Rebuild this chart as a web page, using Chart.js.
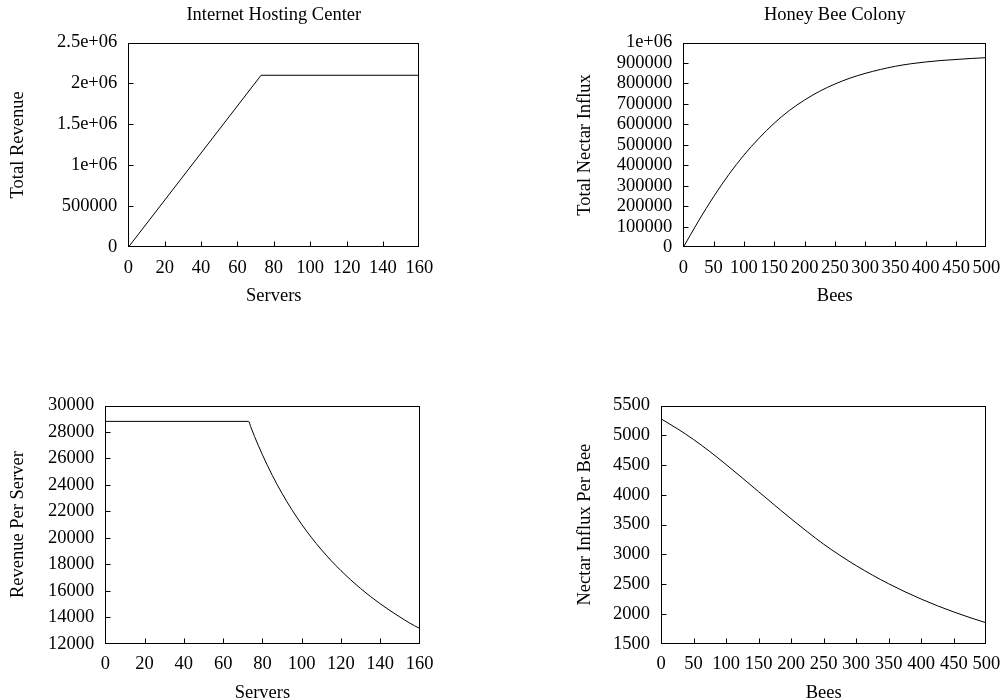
<!DOCTYPE html>
<html>
<head>
<meta charset="utf-8">
<script src="https://cdn.jsdelivr.net/npm/chart.js@4/dist/chart.umd.min.js"></script>
<style>
html,body{margin:0;padding:0;background:#fff;}
#wrap{position:relative;width:1000px;height:700px;overflow:hidden;}
.pane{position:absolute;width:500px;height:350px;}
canvas{display:block;}
</style>
</head>
<body>
<div id="wrap">
  <div class="pane" style="left:0;top:0"><canvas id="c1" width="500" height="350"></canvas></div>
  <div class="pane" style="left:500px;top:0"><canvas id="c2" width="500" height="350"></canvas></div>
  <div class="pane" style="left:0;top:350px"><canvas id="c3" width="500" height="350"></canvas></div>
  <div class="pane" style="left:500px;top:350px"><canvas id="c4" width="500" height="350"></canvas></div>
</div>
<script>
// ---------- data ----------
const serversTotal = [0, 73, 160];
const totalRevenue = [0, 2100000, 2100000];

const serversPer = [0, 73, 74, 76, 78, 80, 85, 90, 95, 100, 105, 110, 115, 120, 125, 130, 135, 140, 145, 150, 155, 160];
const revenuePerServer = [28800, 28800, 28410, 27660, 26950, 26280, 24730, 23360, 22130, 21020, 20020, 19110, 18280, 17520, 16820, 16170, 15570, 15020, 14500, 14020, 13560, 13160];

const bees = [0, 25, 50, 75, 100, 125, 150, 175, 200, 225, 250, 275, 300, 325, 350, 375, 400, 425, 450, 475, 500];
const totalNectar = [0, 128000, 247000, 355000, 450000, 533000, 606000, 668000, 719000, 762000, 797000, 826000, 849000, 868000, 884000, 896000, 905000, 912000, 917000, 922000, 926000];
const nectarPerBee = [5276, 5111, 4929, 4727, 4509, 4283, 4053, 3823, 3597, 3379, 3171, 2984, 2811, 2652, 2506, 2372, 2249, 2136, 2033, 1938, 1850];

const serverTicks = ['0', '20', '40', '60', '80', '100', '120', '140', '160'];
const beeTicks = ['0', '50', '100', '150', '200', '250', '300', '350', '400', '450', '500'];
const revenueTicks = ['0', '500000', '1e+06', '1.5e+06', '2e+06', '2.5e+06'];
const nectarTicks = ['0', '100000', '200000', '300000', '400000', '500000', '600000', '700000', '800000', '900000', '1e+06'];
const perServerTicks = ['12000', '14000', '16000', '18000', '20000', '22000', '24000', '26000', '28000', '30000'];
const perBeeTicks = ['1500', '2000', '2500', '3000', '3500', '4000', '4500', '5000', '5500'];

// ---------- drawing ----------
const FONT = "'Liberation Serif', 'Times New Roman', 'DejaVu Serif', serif";
const FS = 18.5;
Chart.defaults.color = '#000';
Chart.defaults.font.family = FONT;
Chart.defaults.font.size = FS;

const framePlugin = {
  id: 'frame',
  afterDatasetsDraw(chart) {
    const {ctx, chartArea: a, scales: {x, y}} = chart;
    const L = Math.round(a.left) + 0.5, R = Math.round(a.right) - 0.5;
    const T = Math.round(a.top) + 0.5, B = Math.round(a.bottom) - 0.5;
    ctx.save();
    ctx.strokeStyle = '#000';
    ctx.lineWidth = 1;
    ctx.beginPath();
    x.ticks.forEach(t => {
      if (t.value <= x.min || t.value >= x.max) return;
      const px = Math.round(x.getPixelForValue(t.value)) + 0.5;
      ctx.moveTo(px, B); ctx.lineTo(px, B - 5);
    });
    y.ticks.forEach(t => {
      if (t.value <= y.min || t.value >= y.max) return;
      const py = Math.round(y.getPixelForValue(t.value)) + 0.5;
      ctx.moveTo(L, py); ctx.lineTo(L + 5, py);
    });
    ctx.stroke();
    ctx.strokeRect(L, T, R - L, B - T);
    ctx.restore();
  }
};

function makePanel(id, p) {
  const points = p.xs.map((v, i) => ({x: v, y: p.ys[i]}));
  return new Chart(document.getElementById(id), {
    type: 'line',
    data: {
      datasets: [{
        data: points,
        borderColor: '#000',
        borderWidth: 1,
        pointRadius: 0,
        fill: false,
        tension: 0,
        cubicInterpolationMode: p.smooth ? 'monotone' : 'default'
      }]
    },
    options: {
      responsive: false,
      animation: false,
      devicePixelRatio: 1,
      layout: {padding: {left: 0, top: p.padTop, right: 500 - p.right, bottom: 0}},
      plugins: {
        legend: {display: false},
        tooltip: {enabled: false},
        title: {
          display: !!p.title,
          text: p.title || '',
          fullSize: false,
          font: {family: FONT, size: FS, weight: 'normal'},
          color: '#000',
          padding: {top: 4.2, bottom: 42.5 - 4.2 - FS * 1.2}
        }
      },
      scales: {
        x: {
          type: 'linear',
          min: p.xMin, max: p.xMax,
          grid: {display: false, drawTicks: false},
          border: {display: false},
          ticks: {
            stepSize: p.xStep, autoSkip: false, maxRotation: 0, minRotation: 0,
            padding: p.xTickPad, color: '#000',
            font: {family: FONT, size: FS},
            callback: (v, i) => p.xLabels[i]
          },
          title: {
            display: true, text: p.xTitle, color: '#000',
            font: {family: FONT, size: FS},
            padding: {top: 0, bottom: p.xTitlePad}
          },
          afterFit: s => { s.height = 350 - p.bottom; s.paddingLeft = 0; s.paddingRight = 0; }
        },
        y: {
          type: 'linear',
          min: p.yMin, max: p.yMax,
          grid: {display: false, drawTicks: false},
          border: {display: false},
          ticks: {
            stepSize: p.yStep, autoSkip: false, padding: 11, color: '#000',
            font: {family: FONT, size: FS},
            callback: (v, i) => p.yLabels[i]
          },
          title: {
            display: true, text: p.yTitle, color: '#000',
            font: {family: FONT, size: FS},
            padding: {top: p.yTitlePad, bottom: 0}
          },
          afterFit: s => { s.width = p.left; s.paddingTop = 0; s.paddingBottom = 0; }
        }
      }
    },
    plugins: [framePlugin]
  });
}

makePanel('c1', {
  xs: serversTotal, ys: totalRevenue, smooth: false,
  title: 'Internet Hosting Center', xTitle: 'Servers', yTitle: 'Total Revenue',
  xMin: 0, xMax: 160, xStep: 20, xLabels: serverTicks,
  yMin: 0, yMax: 2500000, yStep: 500000, yLabels: revenueTicks,
  left: 128.3, right: 419.3, padTop: 0, bottom: 247.3,
  xTickPad: 9.8, xTitlePad: 43.1, yTitlePad: 7.2
});
makePanel('c2', {
  xs: bees, ys: totalNectar, smooth: true,
  title: 'Honey Bee Colony', xTitle: 'Bees', yTitle: 'Total Nectar Influx',
  xMin: 0, xMax: 500, xStep: 50, xLabels: beeTicks,
  yMin: 0, yMax: 1000000, yStep: 100000, yLabels: nectarTicks,
  left: 183.3, right: 486.3, padTop: 0, bottom: 247.3,
  xTickPad: 9.8, xTitlePad: 43.1, yTitlePad: 74.2
});
makePanel('c3', {
  xs: serversPer, ys: revenuePerServer, smooth: true,
  title: '', xTitle: 'Servers', yTitle: 'Revenue Per Server',
  xMin: 0, xMax: 160, xStep: 20, xLabels: serverTicks,
  yMin: 12000, yMax: 30000, yStep: 2000, yLabels: perServerTicks,
  left: 105.3, right: 419.5, padTop: 55.5, bottom: 293.7,
  xTickPad: 9.7, xTitlePad: -4.5, yTitlePad: 7.5
});
makePanel('c4', {
  xs: bees, ys: nectarPerBee, smooth: true,
  title: '', xTitle: 'Bees', yTitle: 'Nectar Influx Per Bee',
  xMin: 0, xMax: 500, xStep: 50, xLabels: beeTicks,
  yMin: 1500, yMax: 5500, yStep: 500, yLabels: perBeeTicks,
  left: 161, right: 486.3, padTop: 55.5, bottom: 293.7,
  xTickPad: 9.7, xTitlePad: -4.5, yTitlePad: 74.2
});
</script>
</body>
</html>
